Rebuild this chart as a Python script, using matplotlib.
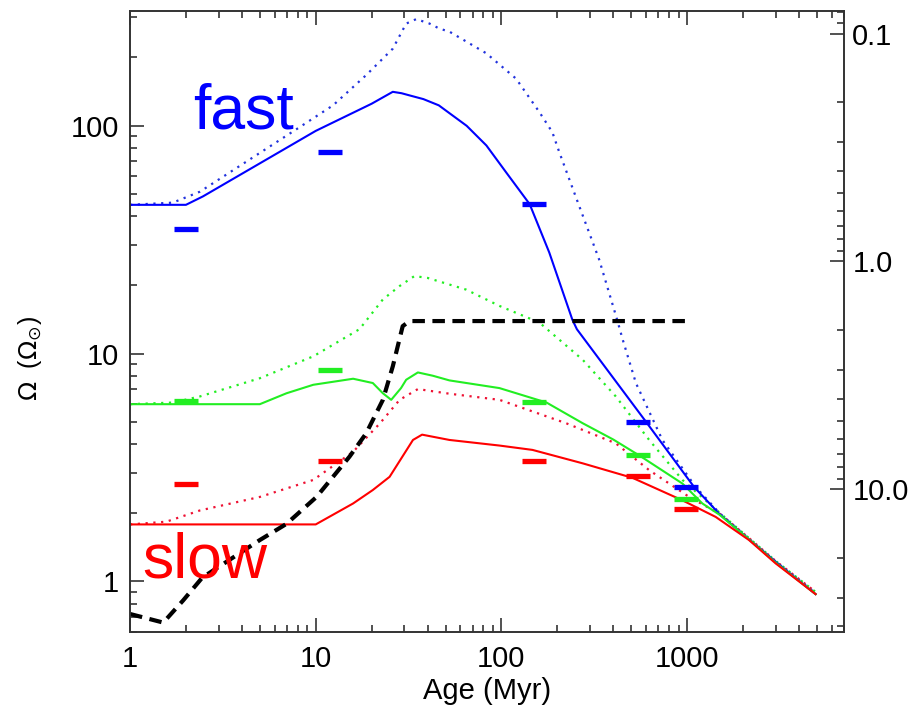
import matplotlib
matplotlib.use("Agg")
from matplotlib import pyplot as plt

# age (Myr) and rotation rate (solar units)
blue_age = [1, 2.0, 2.47, 10, 20, 26, 29, 32, 38, 46, 65, 83, 106, 142, 181, 241, 255, 600, 1090, 1500, 2155, 3000, 4920]
blue_om = [45, 45, 49, 95, 125, 141, 139, 136, 131, 123, 100, 82, 62.5, 45.3, 27.8, 14.1, 12.8, 5.03, 2.6, 1.97, 1.53, 1.22, 0.88]

blue_dot_age = [1, 1.7, 2.38, 8.2, 12.4, 18.7, 26, 30.7, 34.8, 41, 46.4, 52.5, 83, 120, 160, 188, 205, 262, 336, 422, 449, 530, 736, 1112, 1500, 2155, 3000, 4920]
blue_dot_om = [45, 46, 51.4, 98.7, 123, 167, 218, 281, 294, 281, 267, 259, 208, 161, 115, 93.8, 76.6, 44.6, 25.9, 13.9, 11.6, 7.43, 4.18, 2.6, 1.99, 1.54, 1.22, 0.89]

green_age = [1, 5.0, 6.96, 9.7, 15.9, 20.3, 23, 25.5, 28.8, 30.7, 35.5, 42.7, 52.5, 97.6, 175, 274, 400, 560, 944, 1208, 1500, 2155, 3000, 4920]
green_om = [6.0, 6.0, 6.7, 7.3, 7.76, 7.43, 6.7, 6.27, 7.06, 7.68, 8.27, 8.0, 7.63, 7.06, 6.1, 4.95, 4.2, 3.55, 2.69, 2.2, 1.96, 1.53, 1.21, 0.88]

green_dot_age = [1, 1.7, 2.38, 5.0, 9.7, 17.2, 23, 28.3, 34, 40, 64.6, 97.6, 160, 274, 413, 625, 944, 1500, 2155, 3000, 4920]
green_dot_om = [6.0, 6.1, 6.49, 7.8, 9.73, 12.8, 17.3, 19.8, 21.9, 21.5, 19.1, 16.2, 13.7, 9.4, 6.49, 4.18, 2.79, 2.0, 1.55, 1.23, 0.9]

red_age = [1, 10, 15.9, 20.3, 25, 33.4, 37.4, 52.5, 97.6, 147, 274, 508, 944, 1426, 2155, 3000, 4920]
red_om = [1.78, 1.78, 2.2, 2.52, 2.88, 4.18, 4.41, 4.18, 3.95, 3.78, 3.3, 2.85, 2.27, 1.92, 1.52, 1.2, 0.88]

red_dot_age = [1, 1.57, 2.38, 5.0, 9.7, 15.9, 22.2, 28.3, 35.5, 52.5, 97.6, 223, 413, 625, 1026, 1500, 2155, 3000, 4920]
red_dot_om = [1.78, 1.83, 2.05, 2.35, 2.79, 3.71, 4.95, 6.27, 6.99, 6.67, 6.27, 4.95, 4.04, 3.08, 2.35, 1.98, 1.55, 1.23, 0.9]

black_age = [1, 1.51, 1.93, 2.45, 5.0, 6.96, 10.1, 15.2, 18.7, 23, 26, 29.4, 32, 1000]
black_om = [0.72, 0.66, 0.825, 1.04, 1.52, 1.79, 2.35, 3.53, 4.47, 6.27, 8.79, 13.2, 13.9, 13.9]

# observed percentiles
obs_age = [2.0, 12.0, 150, 545, 990]
obs_fast = [35.4, 77, 45.3, 5.0, 2.59]
obs_mid = [6.19, 8.44, 6.13, 3.6, 2.29]
obs_slow = [2.69, 3.39, 3.39, 2.89, 2.09]

P_SUN = 25.4

plt.rcParams['font.family'] = ['Liberation Sans', 'DejaVu Sans']

fig = plt.figure(figsize=(9.19, 7.2), dpi=100)
ax = fig.add_axes([0.1415, 0.1222, 0.7769, 0.8629])

blue, green, red = '#0000ff', '#22ee22', '#ff0000'
dots = (0, (1, 2.5))

ax.plot(blue_dot_age, blue_dot_om, color='#2233dd', lw=1.6, ls=dots)
ax.plot(green_dot_age, green_dot_om, color=green, lw=1.6, ls=dots)
ax.plot(red_dot_age, red_dot_om, color='#ee1133', lw=1.6, ls=dots)
ax.plot(blue_age, blue_om, color=blue, lw=1.5)
ax.plot(green_age, green_om, color=green, lw=1.5)
ax.plot(red_age, red_om, color=red, lw=1.5)
ax.plot(black_age, black_om, color='black', lw=3, ls=(0, (3, 1.8)))

for vals, c in [(obs_fast, blue), (obs_mid, green), (obs_slow, red)]:
    ax.plot(obs_age, vals, ls='none', marker='_', ms=17, mew=3.8, color=c)

ax.text(2.18, 97, 'fast', color=blue, fontsize=45, ha='left', va='baseline')
ax.text(1.16, 1.04, 'slow', color=red, fontsize=45, ha='left', va='baseline')

ax.set_xscale('log')
ax.set_yscale('log')
ax.set_xlim(1, 7000)
ax.set_ylim(0.6, 320)
ax.set_xticks([1, 10, 100, 1000])
ax.set_xticklabels(['1', '10', '100', '1000'])
ax.set_yticks([1, 10, 100])
ax.set_yticklabels(['1', '10', '100'])
ax.set_xlabel('Age (Myr)', fontsize=21, labelpad=3)
ax.set_ylabel(r'$\Omega$  ($\Omega_{\odot}$)', fontsize=18)
ax.yaxis.set_label_coords(-0.12, 0.44)
ax.tick_params(which='both', direction='in', top=True, right=False,
               labelsize=21, color='#333333', width=1.2)
ax.tick_params(which='major', length=10)
ax.tick_params(which='minor', length=5)
ax.tick_params(axis='x', pad=9)
ax.tick_params(axis='y', pad=8)
for s in ax.spines.values():
    s.set_linewidth(1.2)
    s.set_color('#333333')

ax2 = ax.twinx()
ax2.set_yscale('log')
ax2.set_ylim(P_SUN / 0.6, P_SUN / 320)
ax2.set_yticks([0.1, 1, 10])
ax2.set_yticklabels(['0.1', '1.0', '10.0'])
ax2.tick_params(which='both', direction='in', labelsize=21, color='#333333', width=1.2, pad=6)
ax2.tick_params(which='major', length=10)
ax2.tick_params(which='minor', length=5)
for s in ax2.spines.values():
    s.set_linewidth(1.2)
    s.set_color('#333333')

fig.savefig('out.png', dpi=100)
